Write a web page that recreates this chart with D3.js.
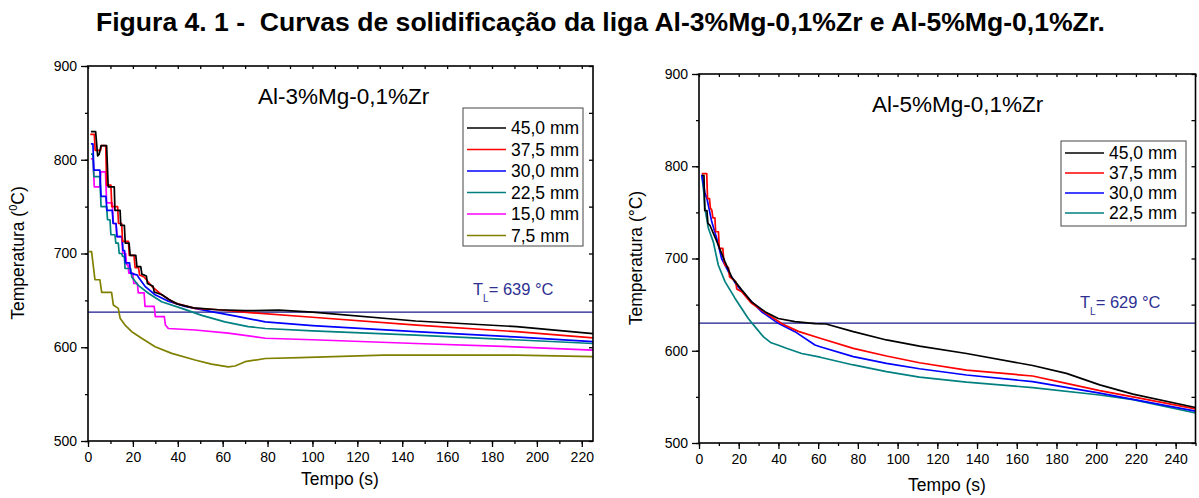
<!DOCTYPE html>
<html><head><meta charset="utf-8">
<script src="https://cdn.jsdelivr.net/npm/d3@7"></script>
<style>
body{margin:0;background:#fff}
svg text{font-family:"Liberation Sans",Arial,sans-serif;fill:#000}
</style></head>
<body><svg id="c" width="1199" height="498"></svg>
<script>
// ---------- DATA ----------
const chartTitle = "Figura 4. 1 -  Curvas de solidificação da liga Al-3%Mg-0,1%Zr e Al-5%Mg-0,1%Zr.";
const seriesLabelsLeft = ["45,0 mm","37,5 mm","30,0 mm","22,5 mm","15,0 mm","7,5 mm"];
const seriesLabelsRight = ["45,0 mm","37,5 mm","30,0 mm","22,5 mm"];
const seriesColors = ["#000000","#ff0000","#0000ff","#008080","#ff00ff","#808000"];
const timeTicksLeft = [0,20,40,60,80,100,120,140,160,180,200,220];
const timeTicksRight = [0,20,40,60,80,100,120,140,160,180,200,220,240];
const tempTicks = [500,600,700,800,900];
const liquidusLeft = 637.5, liquidusRight = 630;

// Al-3%Mg-0,1%Zr  [time s, temperature °C]
const left45 = [[1.3,830],[3.4,830],[4.3,804],[5,806],[5.8,815],[8.3,815],[9,771],[11.7,771],[12,746],[14.3,746],[14.6,730],[16.2,730],[16.6,711],[18.3,711],[18.8,698],[21.3,698],[21.8,686],[23.5,686],[24,678],[26,676],[26.5,668],[29,665],[29.5,659],[33,656],[36,651],[40,646],[47,642],[58,640],[70,639],[85,639.5],[100,637.5],[146,628],[191,622],[225,614.5]];
const left375 = [[1,827],[2.8,827],[3.2,810],[5.6,810],[6,815],[7.9,815],[8.3,773],[10.2,773],[10.6,750],[13.2,750],[13.6,732],[15,732],[15.4,713],[18,713],[18.4,698],[20.5,698],[21,685],[22.5,685],[23,677],[25,675],[28.4,665],[32.8,656],[38.8,647],[47.7,641.5],[58,640],[72,637],[100,632],[146.5,623.7],[191,616.6],[225,610]];
const left300 = [[1.3,817],[2.2,817],[2.6,789],[5.3,789],[5.8,761],[8,761],[8.4,746],[10.8,746],[11.2,732],[12.5,732],[12.9,718],[15.2,718],[15.6,703],[16.3,703],[16.7,690],[18.5,690],[19,679],[22,677],[22.4,675],[25.4,665],[29.9,656],[35.8,649],[43.2,643.5],[55,638],[67,632.6],[79,627],[100,623],[146,616.6],[190,611],[225,606]];
const left225 = [[1.3,806],[2.2,806],[2.6,782],[5.3,782],[5.8,750],[8.3,750],[8.7,736],[9.8,736],[10.2,720],[12,720],[12.4,711],[13.5,711],[13.9,700],[15,700],[15.4,697],[16.2,697],[16.5,684],[19,684],[19.5,675],[22.4,666],[26.9,657.6],[32.8,648.5],[41.8,641.5],[50.7,634],[61,627],[71.4,622],[79,620],[100,617.5],[146,613],[190,608],[225,604]];
const left150 = [[1.3,801],[2.3,801],[2.8,771],[5.3,771],[5.7,787],[7.8,787],[8.3,754],[10.8,754],[11.3,732],[12.5,732],[12.9,718],[15,718],[15.5,700],[16.8,700],[17.2,688],[17.8,688],[18.2,679],[20,679],[20.4,668],[22,668],[22.4,658],[25,658],[25.4,643.5],[29.5,643.5],[30,632.6],[34,632.6],[34.5,623.7],[35.8,620],[47.7,618.4],[62.5,615],[79,609.6],[100,608],[146,604],[190,600.5],[225,597]];
const left75 = [[0.5,702],[1.6,702],[3.1,672],[5.3,672],[6.1,658.6],[10.5,658.6],[11.3,645],[13.5,641.5],[14.3,631],[16.5,623.7],[19.5,616.6],[23.9,609.6],[29.9,600.6],[37.3,593.5],[47.7,586.4],[55,582],[62.5,579],[65.5,580],[70,584.6],[79,588],[94.5,589],[131.6,591.5],[191,591.5],[225,590]];

// Al-5%Mg-0,1%Zr
const right45 = [[1.4,790],[2.5,790],[2.9,752],[4,752],[4.5,738],[5.5,736],[9.7,714.6],[13.1,696.5],[16.4,680],[21.5,666],[26.5,653],[33.2,642.4],[39.9,635],[48.3,631.5],[58.4,629.5],[64,629],[77.7,620.7],[94.4,611.7],[111,605],[134.7,597],[168,584],[185,575.5],[201.8,563],[218.5,553],[250,538.5]];
const right375 = [[1.4,792],[3.9,792],[4.3,765],[5.3,765],[5.7,755],[6.5,752],[7,744],[8,744],[8.4,729],[9.8,729],[10.2,711],[12,711],[12.4,700],[13,693],[14.8,690],[15.4,680],[16.4,678.5],[18.5,675],[19,667],[21.5,664],[26.5,651.4],[34.9,639],[42,629],[50,621],[61,613.5],[77.7,602.6],[94.4,594.3],[111,587],[134.7,579],[168,572.6],[185,564.7],[201.8,556.7],[218.5,550],[250,537]];
const right300 = [[1.4,791],[3,771],[4,765],[6.4,740],[8.9,722],[11.4,700],[14.8,685.7],[19,671],[24.8,656.8],[31.5,642.3],[39.9,629.7],[48.3,620.7],[58.4,606.2],[61,604.4],[77.7,593.6],[94.4,586.4],[111,580.5],[134.7,573.7],[168,566.5],[201.8,554],[250,534.5]];
const right225 = [[1.4,790.5],[2.5,770],[3,754],[4.7,733],[7.2,718],[9.7,693],[13.1,675],[18.1,657],[24.8,635],[29,624],[32.5,615],[36,609],[40,606],[44,602.7],[51.7,597],[61,593],[77.7,584.6],[94.4,577.3],[111,571.5],[134.7,566],[168,560],[201.8,552],[218.5,547],[250,532.5]];

// ---------- DRAW ----------
const svg = d3.select("#c");

svg.append("text").attr("x",96).attr("y",31)
  .attr("font-size",25.5).attr("font-weight","bold")
  .attr("textLength",1009).attr("lengthAdjust","spacingAndGlyphs")
  .style("white-space","pre").text(chartTitle);

function panel(cfg){
  const x = d3.scaleLinear().domain(cfg.xDomain).range([cfg.left,cfg.right]);
  const y = d3.scaleLinear().domain([500,900]).range([cfg.bottom,cfg.top]);
  const g = svg.append("g");
  const clipId = "clip"+cfg.id;
  svg.append("clipPath").attr("id",clipId).append("rect")
    .attr("x",cfg.left).attr("y",cfg.top).attr("width",cfg.right-cfg.left).attr("height",cfg.bottom-cfg.top);

  const minorX = d3.range(cfg.xDomain[0], cfg.xDomain[1]+0.001, 10);
  const minorY = d3.range(500, 901, 50);

  // bottom axis
  const bx = g.append("g").attr("transform",`translate(0,${cfg.bottom})`);
  bx.call(d3.axisBottom(x).tickValues(minorX).tickSize(3).tickFormat(""));
  bx.append("g").call(d3.axisBottom(x).tickValues(cfg.xTicks).tickSize(6).tickPadding(5).tickFormat(d3.format("d")));
  // left axis
  const ly = g.append("g").attr("transform",`translate(${cfg.left},0)`);
  ly.call(d3.axisLeft(y).tickValues(minorY).tickSize(3).tickFormat(""));
  ly.append("g").call(d3.axisLeft(y).tickValues(tempTicks).tickSize(7).tickPadding(4).tickFormat(d3.format("d")));
  // top axis (inward)
  g.append("g").attr("transform",`translate(0,${cfg.top})`)
    .call(d3.axisBottom(x).tickValues(minorX).tickSize(3).tickFormat(""));
  // right axis (inward)
  g.append("g").attr("transform",`translate(${cfg.right},0)`)
    .call(d3.axisLeft(y).tickValues(minorY).tickSize(4).tickFormat(""));
  g.selectAll(".domain").remove();
  g.selectAll(".tick line").attr("stroke","#000").attr("stroke-width",1.3);
  g.selectAll(".tick text").attr("font-size",14).attr("font-family","Liberation Sans, Arial, sans-serif").attr("fill","#000");

  // liquidus
  g.append("line").attr("x1",cfg.left).attr("x2",cfg.right)
    .attr("y1",y(cfg.liquidus)).attr("y2",y(cfg.liquidus))
    .attr("stroke","#1a1a8c").attr("stroke-width",1.4);

  const line = d3.line().x(d=>x(d[0])).y(d=>y(d[1]));
  const lg = g.append("g").attr("clip-path",`url(#${clipId})`);
  cfg.series.slice().reverse().forEach((s,i)=>{
    const idx = cfg.series.length-1-i;
    lg.append("path").datum(s).attr("d",line).attr("fill","none")
      .attr("stroke",seriesColors[idx]).attr("stroke-width",1.7).attr("stroke-linejoin","round");
  });

  // frame
  g.append("rect").attr("x",cfg.left).attr("y",cfg.top)
    .attr("width",cfg.right-cfg.left).attr("height",cfg.bottom-cfg.top)
    .attr("fill","none").attr("stroke","#000").attr("stroke-width",1.6);

  // alloy label
  g.append("text").attr("x",cfg.annX).attr("y",cfg.annY).attr("font-size",22.5).text(cfg.alloy);

  // TL label
  const tl = g.append("text").attr("x",cfg.tlX).attr("y",cfg.tlY).attr("font-size",16.5)
    .style("fill","#2e3192").attr("font-family","Open Sans, sans-serif");
  tl.append("tspan").text("T");
  tl.append("tspan").attr("dy",7).attr("font-size",10).text("L");
  tl.append("tspan").attr("dy",-7).text("= " + cfg.tlText);

  // legend
  const lgd = g.append("g");
  lgd.append("rect").attr("x",cfg.legX).attr("y",cfg.legY).attr("width",cfg.legW).attr("height",cfg.legH)
    .attr("fill","#fff").attr("stroke","#444").attr("stroke-width",1);
  cfg.labels.forEach((lab,i)=>{
    const yy = cfg.legY + cfg.legFirst + i*cfg.legStep;
    lgd.append("line").attr("x1",cfg.legX+4).attr("x2",cfg.legX+43).attr("y1",yy).attr("y2",yy)
      .attr("stroke",seriesColors[i]).attr("stroke-width",1.7);
    lgd.append("text").attr("x",cfg.legX+48).attr("y",yy+6).attr("font-size",17.5).text(lab);
  });

  // axis titles
  g.append("text").attr("x",cfg.xTitleX).attr("y",cfg.xTitleY).attr("text-anchor","middle")
    .attr("font-size",17.5).text("Tempo (s)");
  const yt = g.append("text").attr("transform",`translate(${cfg.yTitleX},${cfg.yTitleY}) rotate(-90)`)
    .attr("text-anchor","middle").attr("font-size",17.5);
  yt.append("tspan").text("Temperatura (");
  if(cfg.supZero){
    yt.append("tspan").attr("dy",-7).attr("font-size",11).text("0");
    yt.append("tspan").attr("dy",7).text("C)");
  } else {
    yt.append("tspan").text("°C)");
  }
}

panel({id:"L", left:88, right:593, top:66, bottom:441, xDomain:[0,225], xTicks:timeTicksLeft,
  series:[left45,left375,left300,left225,left150,left75], labels:seriesLabelsLeft,
  liquidus:liquidusLeft, tlText:"639 °C", tlX:473, tlY:295,
  alloy:"Al-3%Mg-0,1%Zr", annX:258, annY:104,
  legX:463, legY:108, legW:120, legH:138, legFirst:20, legStep:21.5,
  xTitleX:340, xTitleY:485, yTitleX:24, yTitleY:253, supZero:true});

panel({id:"R", left:699, right:1195.5, top:74, bottom:443, xDomain:[0,250], xTicks:timeTicksRight,
  series:[right45,right375,right300,right225], labels:seriesLabelsRight,
  liquidus:liquidusRight, tlText:"629 °C", tlX:1080, tlY:308,
  alloy:"Al-5%Mg-0,1%Zr", annX:872, annY:112,
  legX:1061, legY:141, legW:125, legH:85, legFirst:12, legStep:20,
  xTitleX:947, xTitleY:491, yTitleX:642, yTitleY:258, supZero:false});
</script></body></html>
